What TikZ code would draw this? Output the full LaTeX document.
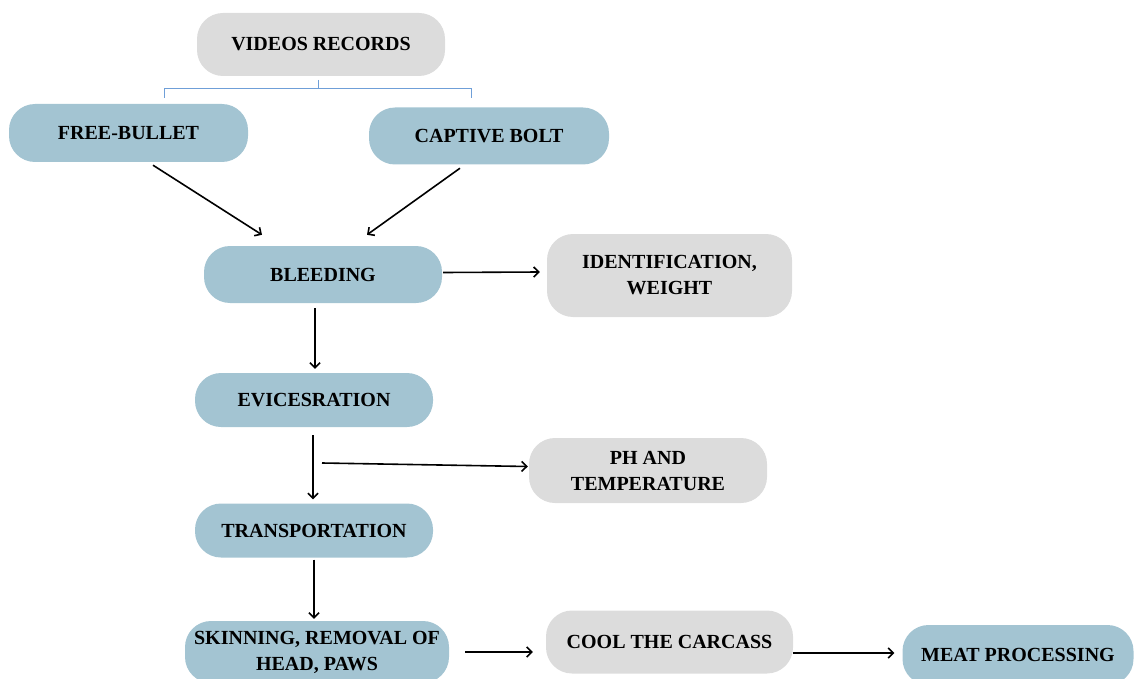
\documentclass[tikz,border=0pt]{standalone}
\usepackage{fontspec}
\setmainfont{Liberation Serif}
\usetikzlibrary{calc,arrows.meta}
\definecolor{boxblue}{HTML}{A3C4D2}
\definecolor{boxgrey}{HTML}{DCDCDC}
\definecolor{brkblue}{HTML}{6F9FD8}

\begin{document}
\begin{tikzpicture}[x=1pt,y=-1pt,>={Straight Barb[length=5pt,width=10pt]},
    stage/.style={fill=boxblue,rounded corners=26pt,inner sep=0pt,align=center,
      font=\fontsize{20}{26}\selectfont\bfseries},
    check/.style={stage,fill=boxgrey},
    flow/.style={->,line width=1.6pt}]
    \useasboundingbox (0,0) rectangle (1134,679);
    \clip (0,0) rectangle (1134,679);
    \node[check,minimum width=248pt,minimum height=63pt] (VID) at (321,44.5) {VIDEOS RECORDS};
    \draw[brkblue,line width=0.8pt] (164,98) -- (164,88) -- (471,88) -- (471,98); \draw[brkblue,line width=0.8pt] (318,80) -- (318,88);
    \node[stage,minimum width=239pt,minimum height=58pt] (FB) at (128.5,133) {FREE-BULLET};
    \node[stage,minimum width=240pt,minimum height=57pt] (CB) at (489,136) {CAPTIVE BOLT};
    \node[stage,minimum width=238pt,minimum height=57pt] (BLD) at (323,274.5) {BLEEDING};
    \node[check,minimum width=245pt,minimum height=83pt] (ID) at (669.5,275.5) {IDENTIFICATION,\\WEIGHT};
    \node[stage,minimum width=238pt,minimum height=54pt] (EVI) at (314,400) {EVICESRATION};
    \node[check,minimum width=238pt,minimum height=65pt] (PH) at (648,470.5) {PH AND\\TEMPERATURE};
    \node[stage,minimum width=238pt,minimum height=54pt] (TR) at (314,530.5) {TRANSPORTATION};
    \node[stage,minimum width=264pt,minimum height=62pt] (SK) at (317,652) {SKINNING, REMOVAL OF\\HEAD, PAWS};
    \node[check,minimum width=247pt,minimum height=63pt] (COOL) at (669.5,642) {COOL THE CARCASS};
    \node[stage,minimum width=231pt,minimum height=60pt] (MEAT) at (1018,655) {MEAT PROCESSING};
    \coordinate (PHS) at (322,463);
    \draw[flow] ($(FB.south)+(24.5,3)$) -- ($(BLD.north)+(-61,-11)$);
    \draw[flow] ($(CB.south)+(-29,3.5)$) -- ($(BLD.north)+(44,-11)$);
    \draw[flow] ($(BLD.east)+(1,-2)$) -- ($(ID.west)+(-7,-3.5)$);
    \draw[flow] ($(BLD.south)+(-8,5)$) -- ($(EVI.north)+(1,-4)$);
    \draw[flow] ($(EVI.south)+(-1,8)$) -- ($(TR.north)+(-1,-4)$);
    \draw[flow] (PHS) -- ($(PH.west)+(-1,-4)$);
    \draw[flow] ($(TR.south)+(0,2)$) -- ($(SK.north)+(-3,-2)$);
    \draw[flow] ($(SK.east)+(16,0)$) -- ($(COOL.west)+(-13,10)$);
    \draw[flow] ($(COOL.east)+(0,11)$) -- ($(MEAT.west)+(-8,-2)$);
  \end{tikzpicture}
\end{document}
